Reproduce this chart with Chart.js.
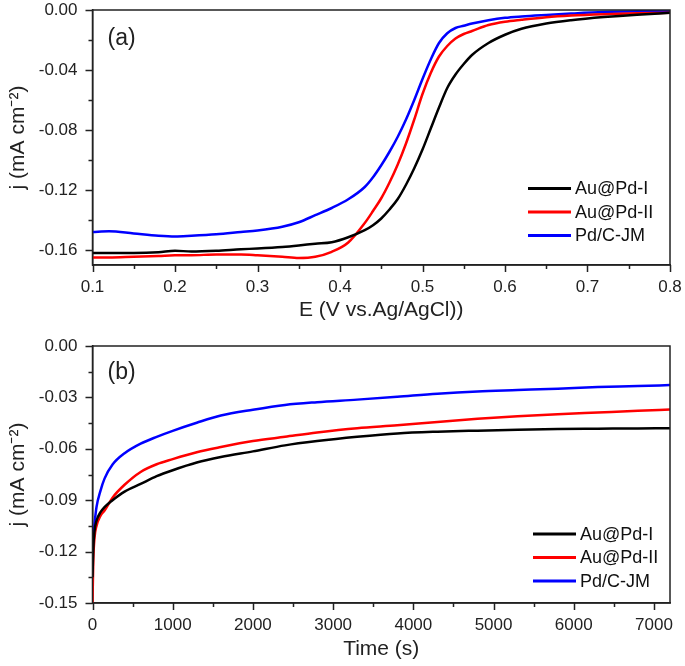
<!DOCTYPE html>
<html>
<head>
<meta charset="utf-8">
<script src="https://cdn.jsdelivr.net/npm/chart.js@4.4.1/dist/chart.umd.min.js"></script>
<style>
  html, body { margin: 0; padding: 0; background: #fff; }
  #wrap { position: relative; width: 685px; height: 666px; }
  #wrap canvas { position: absolute; left: 0; }
  #lsv { top: 0; width: 685px; height: 330px; }
  #ca { top: 330px; width: 685px; height: 336px; }
</style>
</head>
<body>
<div id="wrap">
  <canvas id="lsv" width="685" height="330"></canvas>
  <canvas id="ca" width="685" height="336"></canvas>
</div>
<script>
// series names / colours shared by both panels
const SERIES = ['Au@Pd-I', 'Au@Pd-II', 'Pd/C-JM'];
const COLORS = ['#000000', '#ff0000', '#0000ff'];

// ── (a) LSV curves, j (mA cm-2) vs E (V vs Ag/AgCl) ──
const potential = [0.10, 0.12, 0.15, 0.18, 0.20, 0.22, 0.25, 0.28, 0.30, 0.33, 0.35, 0.37, 0.39, 0.41,
    0.43, 0.44, 0.45, 0.46, 0.47, 0.48, 0.49, 0.50, 0.51, 0.52, 0.53, 0.54, 0.55, 0.56, 0.58, 0.60,
    0.62, 0.65, 0.68, 0.72, 0.76, 0.80];
const lsvAuPdI = [-0.162, -0.162, -0.162, -0.1615, -0.1605, -0.161, -0.1605, -0.1595, -0.159, -0.158,
    -0.157, -0.1558, -0.1548, -0.1515, -0.1468, -0.1435, -0.139, -0.133, -0.126, -0.1165, -0.1055,
    -0.093, -0.079, -0.065, -0.052, -0.043, -0.036, -0.030, -0.022, -0.0165, -0.0125, -0.009,
    -0.0068, -0.0047, -0.0031, -0.0019];
const lsvAuPdII = [-0.165, -0.165, -0.1645, -0.164, -0.1635, -0.1635, -0.163, -0.163, -0.1635, -0.1645,
    -0.1653, -0.1645, -0.1612, -0.155, -0.142, -0.134, -0.1255, -0.115, -0.103, -0.089, -0.073,
    -0.056, -0.042, -0.031, -0.024, -0.019, -0.016, -0.014, -0.010, -0.0078, -0.0065, -0.0048,
    -0.0037, -0.0028, -0.0022, -0.0018];
const lsvPdC = [-0.148, -0.1475, -0.149, -0.1505, -0.151, -0.1505, -0.1495, -0.148, -0.147, -0.1445,
    -0.1415, -0.1368, -0.132, -0.1262, -0.118, -0.1115, -0.1035, -0.0945, -0.0845, -0.073, -0.060,
    -0.046, -0.033, -0.022, -0.0155, -0.012, -0.0105, -0.009, -0.0068, -0.0052, -0.0043, -0.0033,
    -0.0024, -0.0014, -0.0009, -0.0007];
const lsvXTicks = [0.1, 0.2, 0.3, 0.4, 0.5, 0.6, 0.7, 0.8];
const lsvYTicks = [0, -0.04, -0.08, -0.12, -0.16];

// ── (b) chronoamperometry, j (mA cm-2) vs time (s) ──
const time = [0, 10, 25, 50, 100, 150, 250, 400, 600, 800, 1000, 1300, 1600, 2000, 2400, 2800,
    3300, 3800, 4300, 4800, 5300, 5800, 6300, 6800, 7200];
const caAuPdI = [-0.135, -0.118, -0.108, -0.102, -0.097, -0.094, -0.090, -0.085, -0.0805, -0.076,
    -0.0725, -0.068, -0.0648, -0.0615, -0.058, -0.0555, -0.053, -0.051, -0.050, -0.0494, -0.0489,
    -0.0485, -0.0483, -0.0481, -0.048];
const caAuPdII = [-0.150, -0.125, -0.112, -0.105, -0.099, -0.096, -0.0885, -0.081, -0.0735, -0.069,
    -0.066, -0.062, -0.059, -0.0555, -0.053, -0.0505, -0.048, -0.0463, -0.0443, -0.0425, -0.041,
    -0.0398, -0.0388, -0.0378, -0.0371];
const caPdC = [-0.120, -0.112, -0.104, -0.094, -0.0844, -0.0774, -0.0692, -0.0626, -0.057, -0.053,
    -0.0495, -0.0448, -0.0406, -0.0372, -0.0344, -0.0328, -0.0313, -0.0296, -0.0278, -0.0265,
    -0.0257, -0.0249, -0.024, -0.0234, -0.0228];
const caXTicks = [0, 1000, 2000, 3000, 4000, 5000, 6000, 7000];
const caYTicks = [0, -0.03, -0.06, -0.09, -0.12, -0.15];

const FONT = "'Liberation Sans', Arial, sans-serif";
const INK = '#222';

function toPoints(xs, ys) {
    return xs.map((x, i) => ({ x, y: ys[i] }));
}

function makeDatasets(xs, seriesValues) {
    return seriesValues.map((ys, i) => ({
        label: SERIES[i],
        data: toPoints(xs, ys),
        borderColor: COLORS[i],
        borderWidth: 2.5,
        pointRadius: 0,
        cubicInterpolationMode: 'monotone',
        fill: false
    }));
}

// midpoints between major ticks, only where inside [min, max]
function minorOf(ticks, min, max) {
    const out = [];
    for (let i = 0; i < ticks.length - 1; i++) out.push((ticks[i] + ticks[i + 1]) / 2);
    const step = ticks[1] - ticks[0];
    const extra = ticks[ticks.length - 1] + step / 2;
    if (extra >= Math.min(min, max) && extra <= Math.max(min, max)) out.push(extra);
    return out;
}

// frame, outward tick marks, panel tag and inset legend
const decor = {
    id: 'decor',
    afterDraw(chart, args, opts) {
        const { ctx, chartArea: { left, top, right, bottom }, scales: { x, y } } = chart;
        ctx.save();
        ctx.strokeStyle = INK;
        ctx.lineWidth = 1.5;
        ctx.strokeRect(left, top, right - left, bottom - top);

        ctx.beginPath();
        const tick = (v, len, axis) => {
            if (axis === 'x') {
                const px = Math.round(x.getPixelForValue(v)) + 0.5;
                ctx.moveTo(px, bottom); ctx.lineTo(px, bottom + len);
            } else {
                const py = Math.round(y.getPixelForValue(v)) + 0.5;
                ctx.moveTo(left, py); ctx.lineTo(left - len, py);
            }
        };
        opts.xTicks.forEach(v => tick(v, 7, 'x'));
        minorOf(opts.xTicks, x.min, x.max).forEach(v => tick(v, 4, 'x'));
        opts.yTicks.forEach(v => tick(v, 7, 'y'));
        minorOf(opts.yTicks, y.min, y.max).forEach(v => tick(v, 4, 'y'));
        ctx.stroke();

        // panel tag
        ctx.fillStyle = INK;
        ctx.font = `23px ${FONT}`;
        ctx.textAlign = 'left';
        ctx.textBaseline = 'middle';
        ctx.fillText(opts.tag, left + 15, top + opts.tagDy);

        // legend
        ctx.font = `18px ${FONT}`;
        chart.data.datasets.forEach((ds, i) => {
            const ly = bottom - opts.legendBottom + i * opts.legendGap;
            const lx = right - opts.legendRight;
            ctx.strokeStyle = ds.borderColor;
            ctx.lineWidth = 3;
            ctx.beginPath();
            ctx.moveTo(lx, ly); ctx.lineTo(lx + 43, ly);
            ctx.stroke();
            ctx.fillStyle = '#111';
            ctx.fillText(ds.label, lx + 47, ly + 1);
        });
        ctx.restore();
    }
};

function axis(opts) {
    return {
        type: 'linear',
        min: opts.min,
        max: opts.max,
        grid: { display: false, drawTicks: false },
        border: { display: true, color: INK, width: 1.5 },
        afterBuildTicks: s => { s.ticks = opts.ticks.map(v => ({ value: v })); },
        afterFit: s => {
            opts.fit(s);
            // keep the plot box fixed, labels may overhang
            s.paddingLeft = 0; s.paddingRight = 0;
            s.paddingTop = 0; s.paddingBottom = 0;
        },
        ticks: {
            autoSkip: false,
            maxRotation: 0,
            padding: opts.tickPad,
            color: INK,
            font: { family: FONT, size: 17 },
            callback: opts.fmt
        },
        title: {
            display: true,
            text: opts.title,
            color: INK,
            font: { family: FONT, size: 21 },
            padding: opts.titlePad
        }
    };
}

function makeChart(id, cfg) {
    return new Chart(document.getElementById(id), {
        type: 'line',
        data: { datasets: cfg.datasets },
        options: {
            responsive: false,
            animation: false,
            layout: { padding: { top: cfg.padTop, right: 15, left: 0, bottom: 0 } },
            scales: { x: cfg.x, y: cfg.y },
            plugins: {
                legend: { display: false },
                tooltip: { enabled: false },
                decor: cfg.decor
            }
        },
        plugins: [decor]
    });
}

const yFmt = v => Number(v).toFixed(2);

makeChart('lsv', {
    padTop: 10,
    datasets: makeDatasets(potential, [lsvAuPdI, lsvAuPdII, lsvPdC]),
    x: axis({
        min: 0.1, max: 0.8, ticks: lsvXTicks, tickPad: 12,
        fmt: v => Number(v).toFixed(1),
        title: 'E (V vs.Ag/AgCl))', titlePad: { top: 0, bottom: 7 },
        fit: s => { s.height = 65; }
    }),
    y: axis({
        min: -0.17, max: 0, ticks: lsvYTicks, tickPad: 15, fmt: yFmt,
        title: 'j (mA cm\u207B\u00B2)', titlePad: { top: 6, bottom: 0 },
        fit: s => { s.width = 92.5; }
    }),
    decor: { xTicks: lsvXTicks, yTicks: lsvYTicks, tag: '(a)', tagDy: 29,
        legendRight: 142, legendBottom: 76.5, legendGap: 23.5 }
});

makeChart('ca', {
    padTop: 16,
    datasets: makeDatasets(time, [caAuPdI, caAuPdII, caPdC]),
    x: axis({
        min: 0, max: 7200, ticks: caXTicks, tickPad: 12,
        fmt: v => String(v),
        title: 'Time (s)', titlePad: { top: 0, bottom: 4 },
        fit: s => { s.height = 63; }
    }),
    y: axis({
        min: -0.15, max: 0, ticks: caYTicks, tickPad: 15, fmt: yFmt,
        title: 'j (mA cm\u207B\u00B2)', titlePad: { top: 6, bottom: 0 },
        fit: s => { s.width = 92.5; }
    }),
    decor: { xTicks: caXTicks, yTicks: caYTicks, tag: '(b)', tagDy: 27,
        legendRight: 137, legendBottom: 69, legendGap: 23.5 }
});
</script>
</body>
</html>
